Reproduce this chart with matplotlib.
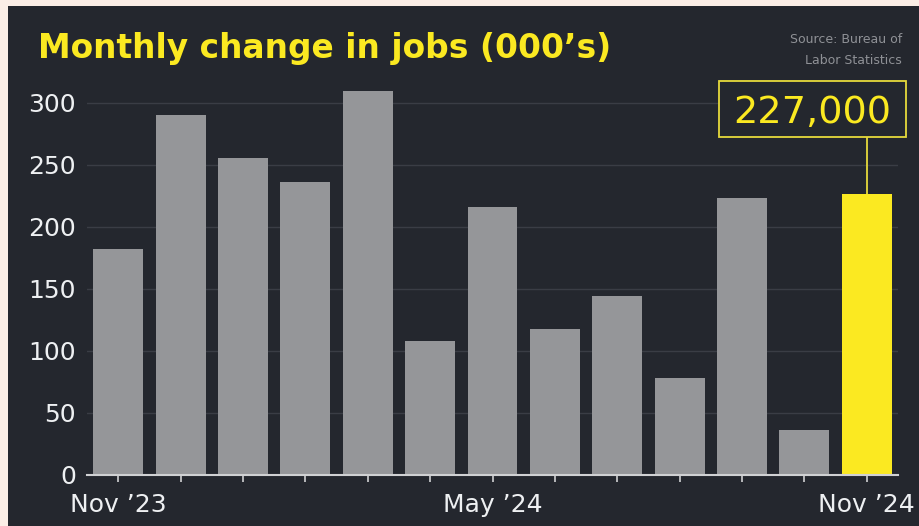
import matplotlib
matplotlib.use("Agg")
import matplotlib.pyplot as plt
from matplotlib.patches import Rectangle

months = ["Nov '23", "Dec '23", "Jan '24", "Feb '24", "Mar '24", "Apr '24", "May '24",
          "Jun '24", "Jul '24", "Aug '24", "Sep '24", "Oct '24", "Nov '24"]
jobs = [182, 290, 256, 236, 310, 108, 216, 118, 144, 78, 223, 36, 227]
shown_labels = {"Nov '23": "Nov \u201923", "May '24": "May \u201924", "Nov '24": "Nov \u201924"}
yticks = [0, 50, 100, 150, 200, 250, 300]
highlight_label = "227,000"

BG = "#24272e"
BEIGE = "#fbeee6"
GREY = "#959699"
YELLOW = "#fbe921"
BOXEDGE = "#e6da3c"
TXT = "#eef0f2"

plt.rcParams['font.family'] = ['DejaVu Sans']

W, H = 919, 526
fig = plt.figure(figsize=(W / 100, H / 100), dpi=100, facecolor=BEIGE)
bgax = fig.add_axes([8 / W, 0, 1 - 8 / W, 1 - 6 / H], zorder=-10)
bgax.set_axis_off()
bgax.add_patch(Rectangle((0, 0), 1, 1, transform=bgax.transAxes, facecolor=BG, edgecolor='none'))

ax_l, ax_r = 87 / W, 898 / W
ax_b = (H - 475) / H
ax_t = (H - 84.4) / H
ax = fig.add_axes([ax_l, ax_b, ax_r - ax_l, ax_t - ax_b])
ax.set_facecolor('none')

x = list(range(len(months)))
colors = [GREY] * (len(months) - 1) + [YELLOW]
ax.bar(x, jobs, width=0.8, color=colors, zorder=2)

ax.set_xlim(-0.5, len(months) - 0.5)
ax.set_ylim(0, 315)
ax.set_yticks(yticks)
ax.set_yticklabels([str(v) for v in yticks])
ax.set_xticks(x)
ax.set_xticklabels([shown_labels.get(m, "") for m in months])

ax.grid(axis='y', color='#3a3d45', lw=1, zorder=1)
ax.set_axisbelow(True)
for s in ['top', 'right', 'left']:
    ax.spines[s].set_visible(False)
ax.spines['bottom'].set_color('#d0d1d3')
ax.spines['bottom'].set_linewidth(1.5)
ax.spines['bottom'].set_zorder(3)

ax.tick_params(axis='y', length=0, labelsize=18, labelcolor=TXT, pad=8)
ax.tick_params(axis='x', length=5, width=1.2, color='#d0d1d3', labelsize=18,
               labelcolor=TXT, pad=8, direction='out')

fig.text(38 / W, (H - 58) / H, "Monthly change in jobs (000\u2019s)", color=YELLOW,
         fontsize=23.7, fontweight='bold', ha='left', va='baseline')
fig.text(902 / W, (H - 33) / H, "Source: Bureau of\nLabor Statistics", color='#8f9196',
         fontsize=9, ha='right', va='top', linespacing=1.85)

# highlight callout for the latest month
t = ax.text(11.13, 283.9, highlight_label, ha='center', va='baseline', fontsize=27.5,
            color=YELLOW, zorder=5, clip_on=False)
fig.canvas.draw()
r = fig.canvas.get_renderer()
ext = t.get_window_extent(r)
base_px = ax.transData.transform((0, 283.9))[1]
cap_px = 0.73 * 27.5 * 100 / 72
x0, x1 = ext.x0 - 15, ext.x1 + 14
y0, y1 = base_px - 14, base_px + cap_px + 14
inv = ax.transData.inverted()
(dx0, dy0) = inv.transform((x0, y0))
(dx1, dy1) = inv.transform((x1, y1))
ax.add_patch(Rectangle((dx0, dy0), dx1 - dx0, dy1 - dy0, facecolor=BG, edgecolor=BOXEDGE,
                       lw=1.3, zorder=4, clip_on=False))
ax.vlines(x[-1], jobs[-1], dy0, color=BOXEDGE, lw=1.3, zorder=3)

fig.savefig("out.png", dpi=100, facecolor=BEIGE)
